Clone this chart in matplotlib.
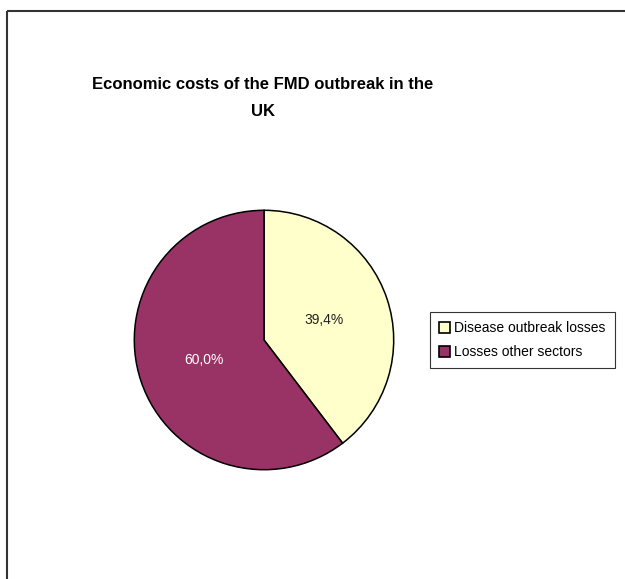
import matplotlib
matplotlib.use("Agg")
import matplotlib.pyplot as plt
from matplotlib.lines import Line2D
from matplotlib.patches import Patch
import numpy as np

plt.rcParams['font.family'] = ['Liberation Sans', 'DejaVu Sans']

# Data
categories = ["Disease outbreak losses", "Losses other sectors"]
shares = [39.4, 60.0]
label_texts = ["39,4%", "60,0%"]
colors = ["#FFFFCC", "#993366"]
label_colors = ["#222222", "#FFFFFF"]
title = "Economic costs of the FMD outbreak in the\nUK"

W, H = 625, 579
fig = plt.figure(figsize=(W / 100, H / 100), dpi=100)
fig.patch.set_facecolor("white")

# Chart-area border (top and left edges)
fig.add_artist(Line2D([6.5 / W, 6.5 / W], [0, 1 - 10.5 / H], transform=fig.transFigure,
                      color="#333333", lw=1.5, solid_capstyle="butt"))
fig.add_artist(Line2D([6.5 / W, 1], [1 - 10.5 / H, 1 - 10.5 / H], transform=fig.transFigure,
                      color="#333333", lw=1.5, solid_capstyle="butt"))

# Pie axes
cx, cy, r = 264, 340, 131
ax = fig.add_axes([(cx - r) / W, (H - cy - r) / H, 2 * r / W, 2 * r / H])
wedges, _ = ax.pie(shares, colors=colors, startangle=90, counterclock=False,
                   wedgeprops=dict(edgecolor="black", linewidth=1.1))
ax.set_xlim(-1.01, 1.01)
ax.set_ylim(-1.01, 1.01)
ax.set_aspect("equal")
ax.axis("off")

for w, txt, tc in zip(wedges, label_texts, label_colors):
    mid = np.deg2rad((w.theta1 + w.theta2) / 2)
    ax.text(0.49 * np.cos(mid), 0.49 * np.sin(mid), txt, ha="center", va="center",
            fontsize=10, color=tc)

# Title
fig.text(263 / W, 1 - 98 / H, title, ha="center", va="center", fontsize=12,
         fontweight="bold", linespacing=1.95, multialignment="center")

# Legend
handles = [Patch(facecolor=c, edgecolor="black", linewidth=1.2) for c in colors]
leg = fig.legend(handles, categories, loc="upper left",
                 bbox_to_anchor=(430 / W, 1 - 312 / H), fontsize=10,
                 frameon=True, fancybox=False, edgecolor="black",
                 handlelength=0.8, handleheight=0.8, handletextpad=0.3,
                 borderpad=0.65, labelspacing=0.75, borderaxespad=0)
leg.get_frame().set_linewidth(0.8)

fig.savefig("out.png", dpi=100)
